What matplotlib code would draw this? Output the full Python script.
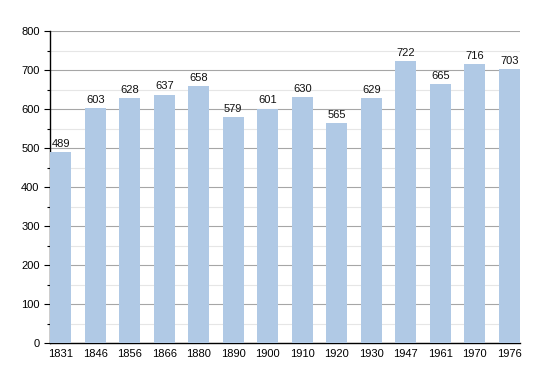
import matplotlib.pyplot as plt
from matplotlib.ticker import MultipleLocator

years = ['1831', '1846', '1856', '1866', '1880', '1890', '1900',
         '1910', '1920', '1930', '1947', '1961', '1970', '1976']
population = [489, 603, 628, 637, 658, 579, 601, 630, 565, 629, 722, 665, 716, 703]

plt.rcParams['font.family'] = ['Liberation Sans', 'DejaVu Sans']

fig = plt.figure(figsize=(5.5, 3.73), dpi=100)
ax = fig.add_axes([50 / 550, 1 - 343 / 373, 470 / 550, 312 / 373])

x = list(range(len(years)))
ax.bar(x, population, width=0.62, color='#b0c9e5', zorder=3)

for xi, v in zip(x, population):
    ax.text(xi, v + 8, str(v), ha='center', va='bottom', fontsize=8, color='#111111')

ax.set_xlim(-0.31, len(years) - 1 + 0.31)
ax.set_ylim(0, 800)
ax.set_xticks(x)
ax.set_xticklabels(years, fontsize=8)
ax.yaxis.set_major_locator(MultipleLocator(100))
ax.yaxis.set_minor_locator(MultipleLocator(50))
ax.tick_params(axis='y', labelsize=8, length=4, width=0.8)
ax.tick_params(axis='y', which='minor', length=2.5, width=0.8)
ax.tick_params(axis='x', length=0, pad=4)

ax.grid(axis='y', which='major', color='#a6a6a6', linewidth=0.8, zorder=0)
ax.grid(axis='y', which='minor', color='#e6e6e6', linewidth=0.8, zorder=0)

for side in ['top', 'right']:
    ax.spines[side].set_visible(False)
ax.spines['left'].set_linewidth(1.0)
ax.spines['bottom'].set_linewidth(1.0)

fig.savefig('out.png', dpi=100)
